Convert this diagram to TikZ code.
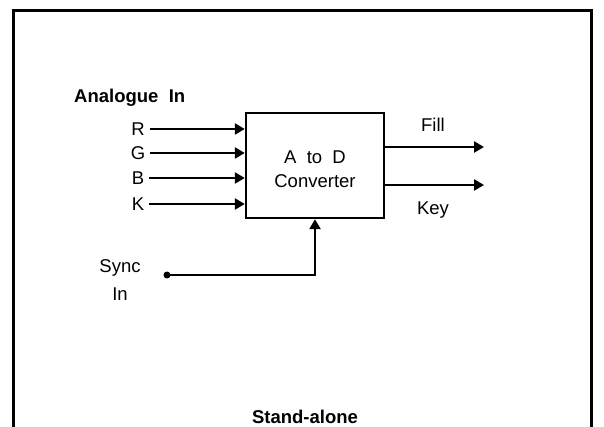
\documentclass[tikz,border=0pt]{standalone}
\usepackage{fontspec}
\setmainfont{Liberation Sans}
\usetikzlibrary{arrows.meta, positioning}
\tikzstyle{converter} = [rectangle, draw=black, line width=2.4pt, minimum width=138pt, minimum height=105pt]
\tikzstyle{signal} = [font=\fontsize{18.5}{22}\selectfont, inner sep=2pt]
\tikzstyle{heading} = [font=\fontsize{18.5}{22}\selectfont\bfseries, inner sep=0pt]
\tikzstyle{arrow} = [line width=2.4pt, -{Triangle[length=10pt, width=11pt]}]

\begin{document}
\begin{tikzpicture}[x=1pt, y=-1pt]
\useasboundingbox (0,0) rectangle (604,427);

% outer frame, open at the bottom
\draw [line width=3pt] (13,427) -- (13,11) -- (591,11) -- (591,427);

\node (adc) [converter] at (315,165.5) {};
\node (adclabel) [signal, align=center] at (315,169) {A \ to \ D\\[2pt]Converter};

\node (analogue) [heading, anchor=west] at (74,98) {Analogue \ In};
\node (R) [signal] at (138,129) {R};
\node (G) [signal] at (138,153) {G};
\node (B) [signal] at (138,178) {B};
\node (K) [signal] at (138,204) {K};

\draw [arrow] ([xshift=3pt]R.east) -- (R -| adc.west);
\draw [arrow] ([xshift=3pt]G.east) -- (G -| adc.west);
\draw [arrow] ([xshift=3pt]B.east) -- (B -| adc.west);
\draw [arrow] ([xshift=3pt]K.east) -- (K -| adc.west);

\coordinate (fillout) at (484,147);
\coordinate (keyout) at (484,185);
\node (fill) [signal] at (433,125) {Fill};
\node (key) [signal] at (433,210) {Key};
\draw [arrow] (adc.east |- fillout) -- (fillout);
\draw [arrow] (adc.east |- keyout) -- (keyout);

\node (sync) [signal, align=center] at (120,280) {Sync\\[6pt]In};
\node (syncdot) [circle, fill=black, inner sep=0pt, minimum size=7pt] at (167,275) {};
\draw [arrow] (syncdot.center) -| (adc.south);

\node (mode) [heading] at (305,417) {Stand-alone};

\end{tikzpicture}
\end{document}
